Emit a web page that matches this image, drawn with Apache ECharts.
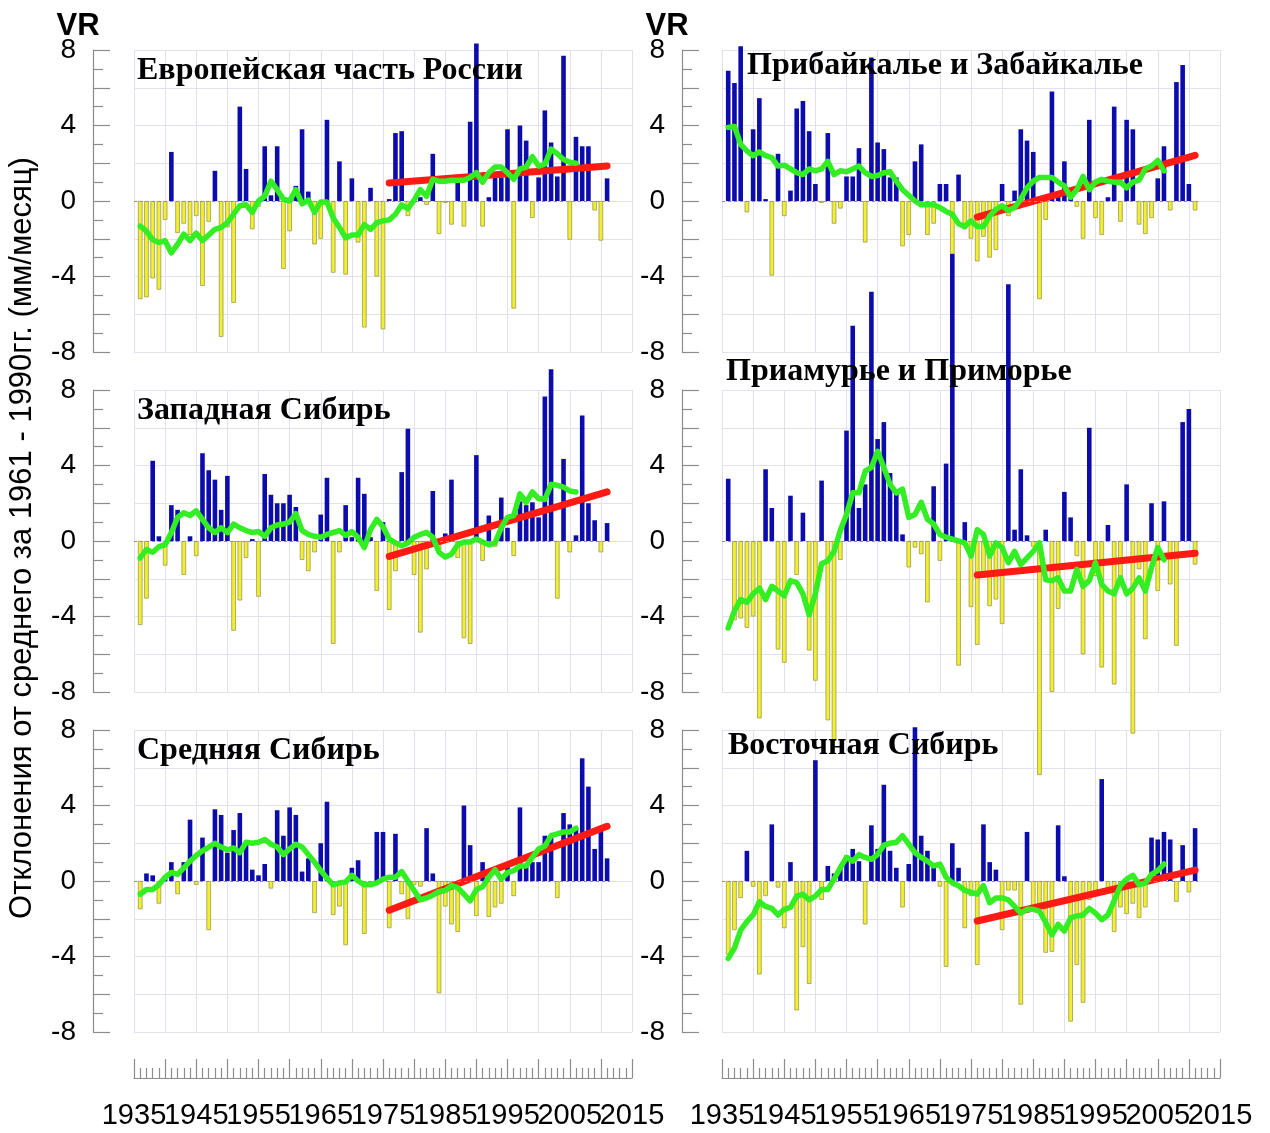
<!DOCTYPE html>
<html>
<head>
<meta charset="utf-8">
<script src="https://cdn.jsdelivr.net/npm/echarts@6/dist/echarts.min.js"></script>
<style>
  html, body { margin: 0; padding: 0; background: #ffffff; }
  #chart { width: 1270px; height: 1133px; }
</style>
</head>
<body>
<div id="chart"></div>
<script>
// Years of the annual anomalies
const years = [1936, 1937, 1938, 1939, 1940, 1941, 1942, 1943, 1944, 1945,
  1946, 1947, 1948, 1949, 1950, 1951, 1952, 1953, 1954, 1955,
  1956, 1957, 1958, 1959, 1960, 1961, 1962, 1963, 1964, 1965,
  1966, 1967, 1968, 1969, 1970, 1971, 1972, 1973, 1974, 1975,
  1976, 1977, 1978, 1979, 1980, 1981, 1982, 1983, 1984, 1985,
  1986, 1987, 1988, 1989, 1990, 1991, 1992, 1993, 1994, 1995,
  1996, 1997, 1998, 1999, 2000, 2001, 2002, 2003, 2004, 2005,
  2006, 2007, 2008, 2009, 2010, 2011];
// The smoothed curve runs to 2006
const smoothYears = years.slice(0, 71);
// Linear trend since 1976
const trendYears = [1976, 2011];

const regionNames = ['Европейская часть России', 'Прибайкалье и Забайкалье',
  'Западная Сибирь', 'Приамурье и Приморье', 'Средняя Сибирь', 'Восточная Сибирь'];

const yTickLabels = [-8, -4, 0, 4, 8];
const yearTickLabels = [1935, 1945, 1955, 1965, 1975, 1985, 1995, 2005, 2015];

// Европейская часть России
const europeBars = [-5.2, -5.1, -4.1, -4.7, -1.0, 2.6, -1.7, -1.2, -1.8, -0.8,
  -4.5, -1.1, 1.6, -7.2, -1.4, -5.4, 5.0, 1.7, -1.5, -0.3,
  2.9, 0.3, 2.9, -3.6, -1.6, 0.8, 3.8, 0.5, -2.3, -2.0,
  4.3, -3.8, 2.1, -3.9, 1.2, -2.2, -6.7, 0.7, -4.0, -6.8,
  0.1, 3.6, 3.7, -0.8, -0.1, 0.2, -0.2, 2.5, -1.75, -0.1,
  -1.25, 1.1, -1.35, 4.2, 8.35, -1.35, 0.2, 1.25, 1.25, 3.8,
  -5.7, 4.0, 3.2, -0.9, 1.25, 4.8, 3.1, 1.3, 7.7, -2.05,
  3.4, 2.9, 2.9, -0.5, -2.1, 1.2];
const europeSmooth = [-1.33, -1.6, -2.05, -2.2, -2.1, -2.75, -2.3, -1.75, -2.1, -1.7,
  -2.1, -1.8, -1.5, -1.4, -1.15, -0.7, -0.25, -0.2, -0.6, 0.0,
  0.25, 1.05, 0.6, 0.1, 0.0, 0.6, -0.15, 0.05, -0.6, -0.05,
  -0.05, -0.9, -1.4, -1.95, -1.8, -1.8, -1.25, -1.5, -1.15, -1.05,
  -1.0, -0.7, -0.2, -0.4, 0.05, 0.6, 0.25, 1.15, 1.05, 1.05,
  1.1, 1.1, 1.1, 1.25, 1.5, 1.0, 1.5, 1.8, 1.8, 1.5,
  1.15, 1.7, 1.8, 2.35, 1.85, 1.95, 2.75, 2.5, 2.2, 2.05,
  2.0];
const europeTrend = [0.95, 1.86];

// Прибайкалье и Забайкалье
const baikalBars = [6.9, 6.25, 8.2, -0.6, 3.8, 5.45, 0.1, -3.95, 2.5, -0.8,
  0.55, 4.9, 5.3, 3.7, 0.9, -0.1, 3.6, -1.2, -0.4, 1.3,
  1.3, 2.8, -2.2, 7.6, 3.1, 2.75, 1.25, 1.25, -2.4, -1.8,
  2.1, 3.0, -1.8, -1.2, 0.9, 0.9, -2.8, 1.4, -1.5, -2.0,
  -3.2, -1.9, -3.0, -2.6, 0.9, -0.8, 0.55, 3.8, 3.2, 2.6,
  -5.2, -1.0, 5.8, 0.5, 2.1, 0.2, -0.3, -2.0, 4.3, -0.9,
  -1.8, 0.2, 5.0, -1.1, 4.3, 3.8, -1.25, -1.75, -0.9, 1.2,
  2.9, -0.5, 6.3, 7.2, 0.9, -0.5];
const baikalSmooth = [3.9, 3.95, 3.0, 2.65, 2.4, 2.6, 2.4, 2.3, 1.85, 1.9,
  1.7, 1.5, 1.4, 1.7, 1.6, 1.7, 2.1, 1.4, 1.6, 1.55,
  1.7, 1.85, 1.5, 1.3, 1.35, 1.5, 1.55, 1.05, 0.6, 0.3,
  0.0, -0.2, -0.2, -0.2, -0.35, -0.55, -0.7, -1.2, -1.35, -1.05,
  -1.35, -1.35, -0.8, -0.45, -0.25, -0.5, -0.35, 0.1, 0.7, 1.05,
  1.25, 1.25, 1.25, 1.0, 0.8, 0.2, 0.6, 1.3, 0.6, 1.0,
  1.15, 1.05, 1.0, 1.0, 0.7, 1.0, 1.1, 1.7, 1.85, 2.15,
  1.6];
const baikalTrend = [-0.85, 2.42];

// Западная Сибирь
const westSibBars = [-4.45, -3.05, 4.25, 0.25, -1.3, 1.9, 1.65, -1.8, 0.25, -0.8,
  4.65, 3.75, 3.25, 1.65, 3.45, -4.75, -3.15, -0.9, 0.1, -2.95,
  3.55, 2.45, 2.0, 2.0, 2.45, 1.8, -1.0, -1.6, -0.6, 1.4,
  3.35, -5.45, -0.6, 1.9, 0.2, 3.35, 2.5, 0.2, -2.65, 1.0,
  -3.65, -1.6, 3.65, 5.95, -1.8, -4.85, -1.5, 2.65, -0.5, 0.4,
  3.25, -0.9, -5.15, -5.45, 4.55, -1.05, 1.35, -0.3, 2.3, 0.7,
  -0.8, 2.1, 1.9, 2.05, 1.25, 7.65, 9.1, -3.05, 4.35, -0.6,
  0.3, 6.65, 2.0, 1.1, -0.6, 0.95];
const westSibSmooth = [-0.9, -0.45, -0.6, -0.3, -0.2, 0.45, 1.25, 1.5, 1.35, 1.6,
  1.15, 0.7, 0.45, 0.7, 0.45, 0.9, 0.7, 0.55, 0.45, 0.5,
  0.25, 0.7, 0.85, 0.9, 1.0, 1.45, 0.55, 0.35, 0.25, 0.2,
  0.35, 0.45, 0.55, 0.3, 0.5, 0.2, -0.35, 0.6, 1.15, 0.75,
  0.1, -0.1, -0.25, -0.1, 0.2, 0.35, 0.45, 0.2, -0.6, -0.85,
  -0.7, -0.2, -0.05, -0.05, 0.1, -0.05, -0.2, -0.1, 0.7, 1.25,
  1.35, 2.5, 2.05, 2.6, 2.25, 2.2, 3.0, 2.95, 2.85, 2.65,
  2.6];
const westSibTrend = [-0.82, 2.6];

// Приамурье и Приморье
const amurBars = [3.3, -4.2, -4.1, -4.6, -4.0, -9.4, 3.8, 1.75, -5.75, -6.45,
  2.4, -1.8, 1.5, -5.8, -7.4, 3.2, -9.5, -10.6, -1.0, 5.85,
  11.4, 1.75, 3.0, 13.2, 5.4, 6.3, 3.6, 2.75, 0.35, -1.4,
  -0.35, -0.7, -3.25, 2.9, -1.05, 4.1, 15.2, -6.6, 1.0, -3.5,
  -5.5, -1.95, -3.45, -3.1, -4.4, 13.6, 0.6, 3.8, 0.3, -0.3,
  -12.4, 0.6, -8.0, -3.6, 2.6, 1.25, -0.8, -6.0, 6.0, -1.85,
  -6.7, 0.85, -7.6, -1.9, 3.0, -10.2, -1.5, -5.2, 2.0, -2.65,
  2.1, -2.3, -5.55, 6.3, 7.0, -1.25];
const amurSmooth = [-4.6, -3.7, -3.1, -3.25, -2.8, -2.5, -3.1, -2.4, -2.65, -2.9,
  -2.1, -2.2, -2.8, -3.9, -2.8, -1.2, -1.05, -0.55, 0.55, 1.4,
  2.55, 2.55, 3.7, 3.9, 4.75, 3.9, 3.0, 2.55, 2.75, 1.25,
  1.4, 2.05, 1.15, 0.9, 0.35, 0.2, 0.1, 0.0, -0.1, -0.8,
  0.6, 0.35, -0.8, -0.1, -0.35, -1.15, -0.55, -1.25, -0.9, -0.55,
  -0.1, -2.05, -2.1, -1.95, -2.65, -2.65, -1.5, -2.4, -2.1, -1.15,
  -2.3, -2.65, -2.8, -1.95, -2.8, -2.5, -1.95, -2.65, -1.4, -0.35,
  -1.0];
const amurTrend = [-1.8, -0.65];

// Средняя Сибирь
const centralSibBars = [-1.5, 0.4, 0.3, -1.2, 0.1, 1.0, -0.7, 1.0, 3.25, -0.2,
  2.3, -2.6, 3.8, 3.5, 1.5, 2.7, 3.6, 1.95, 0.6, 0.3,
  0.9, -0.4, 3.75, 2.4, 3.9, 3.5, 0.5, 1.2, -1.7, 2.0,
  4.2, -1.8, -1.35, -3.4, 0.7, 1.1, -2.8, -0.2, 2.6, 2.6,
  -2.5, 2.5, -0.7, -2.0, -0.2, -0.3, 2.8, 0.4, -5.95, -1.35,
  -2.3, -2.7, 4.0, 1.9, -1.85, 1.0, -1.9, -1.4, -1.2, 0.8,
  -0.8, 3.9, 0.9, 1.0, 1.0, 2.4, 2.4, -0.9, 3.6, 3.0,
  2.8, 6.5, 5.0, 1.7, 2.65, 1.2];
const centralSibSmooth = [-0.7, -0.45, -0.45, -0.2, 0.2, 0.45, 0.35, 0.7, 1.05, 1.35,
  1.6, 1.8, 2.0, 1.8, 1.65, 1.75, 1.5, 2.05, 2.0, 2.05,
  2.2, 1.95, 1.8, 1.4, 1.7, 1.95, 1.8, 1.4, 1.0, 0.55,
  0.15, -0.2, -0.1, -0.05, 0.3, 0.0, -0.2, -0.2, -0.1, 0.1,
  0.2, 0.2, 0.5, 0.0, -0.5, -1.0, -0.9, -0.75, -0.55, -0.5,
  -0.25, -0.35, -0.7, -1.05, -0.45, -0.3, 0.2, 0.6, 0.1, 0.45,
  0.55, 0.8, 0.8, 1.25, 1.7, 1.85, 2.4, 2.5, 2.6, 2.6,
  2.8];
const centralSibTrend = [-1.55, 2.9];

// Восточная Сибирь
const eastSibBars = [-3.9, -2.6, -0.9, 1.6, -0.3, -4.95, -0.8, 3.0, -0.35, -2.5,
  1.0, -6.85, -3.5, -5.45, 6.4, -1.0, 0.8, 0.4, 0.8, 1.35,
  1.7, 1.05, -2.3, 2.95, 1.7, 5.1, 1.6, 0.7, -1.4, 0.9,
  8.15, 2.4, 1.6, 0.9, -0.3, -4.55, 2.0, 0.7, -2.5, -0.8,
  -4.45, 3.0, 1.0, 0.6, -2.6, -0.5, -0.5, -6.55, 2.6, -1.5,
  -1.2, -3.8, -3.75, 2.95, 0.25, -7.45, -4.45, -6.45, -1.0, -0.8,
  5.4, -0.6, -2.7, -1.4, -1.75, -1.2, -1.95, -1.4, 2.3, 2.2,
  2.6, 2.2, -1.1, 1.9, -0.6, 2.8];
const eastSibSmooth = [-4.1, -3.55, -2.6, -2.15, -1.8, -1.1, -1.35, -1.45, -1.8, -1.5,
  -1.4, -0.8, -0.7, -1.0, -0.8, -0.45, -0.45, 0.1, 0.7, 1.25,
  1.05, 1.4, 1.25, 1.15, 1.4, 1.9, 2.0, 2.05, 2.4, 1.95,
  1.5, 1.25, 1.05, 0.8, 0.9, 0.2, -0.1, -0.25, -0.5, -0.6,
  -0.7, -0.25, -1.15, -0.9, -0.9, -1.0, -1.35, -1.7, -1.5, -1.5,
  -1.6, -2.2, -2.85, -2.3, -2.65, -1.95, -1.85, -1.8, -1.45, -1.7,
  -2.05, -1.8, -1.05, -0.25, 0.1, 0.3, -0.2, -0.1, 0.35, 0.55,
  0.9];
const eastSibTrend = [-2.12, 0.58];

const panels = [
  { bars: europeBars, smooth: europeSmooth, trend: europeTrend },
  { bars: baikalBars, smooth: baikalSmooth, trend: baikalTrend },
  { bars: westSibBars, smooth: westSibSmooth, trend: westSibTrend },
  { bars: amurBars, smooth: amurSmooth, trend: amurTrend },
  { bars: centralSibBars, smooth: centralSibSmooth, trend: centralSibTrend },
  { bars: eastSibBars, smooth: eastSibSmooth, trend: eastSibTrend }
];

// ---- layout ----
const colLeft = [134, 722];
const rowTop = [50, 390, 730];
const plotW = 498, plotH = 302;
const axisOffset = [41, 40];
const titlePos = [[137, 71], [747, 66], [137, 411], [726, 372], [137, 751], [728, 746]];
const vrPos = [[78, 26], [667, 26]];

const AXIS_GREY = '#8c8c8c';
const SANS = '"Liberation Sans", Arial, sans-serif';
const SERIF = '"Liberation Serif", "Times New Roman", serif';
const posStyle = { color: '#0c0cad' };
const negStyle = { color: '#f3ef2c', borderColor: '#9a9a58', borderWidth: 0.8 };

const grids = [], xAxes = [], yAxes = [], series = [], graphics = [];

panels.forEach((p, i) => {
  const col = i % 2, row = Math.floor(i / 2);
  grids.push({ left: colLeft[col], top: rowTop[row], width: plotW, height: plotH });
  xAxes.push({
    gridIndex: i, type: 'value', min: 1935, max: 2015, interval: 5,
    axisLine: { show: false }, axisTick: { show: false }, axisLabel: { show: false },
    splitLine: { show: true, lineStyle: { color: '#e0e0f0', width: 1 } }
  });
  yAxes.push({
    gridIndex: i, type: 'value', min: -8, max: 8, interval: 2,
    position: 'left', offset: axisOffset[col],
    axisLine: { show: true, lineStyle: { color: AXIS_GREY, width: 1.2 } },
    axisTick: { show: true, inside: true, length: 17, lineStyle: { color: AXIS_GREY, width: 1.2 } },
    minorTick: { show: true, splitNumber: 2, length: 10, lineStyle: { color: AXIS_GREY, width: 1.2 } },
    axisLabel: {
      formatter: v => (yTickLabels.indexOf(v) >= 0 ? String(v) : ''),
      fontSize: 28, color: '#000', fontFamily: SANS, margin: 17
    },
    splitLine: { show: true, lineStyle: { color: '#e2e2ec', width: 1 } }
  });

  series.push({
    type: 'bar', xAxisIndex: i, yAxisIndex: i, barWidth: 4.6, clip: false, z: 2,
    data: p.bars.map((v, k) => ({ value: [years[k], v], itemStyle: v >= 0 ? posStyle : negStyle })),
    markLine: {
      silent: true, symbol: ['none', 'none'], label: { show: false },
      lineStyle: { color: '#9a9a60', type: [3, 3], width: 1 },
      data: [[{ coord: [1935, 0] }, { coord: [2011.5, 0] }]]
    }
  });
  series.push({
    type: 'line', xAxisIndex: i, yAxisIndex: i, symbol: 'none', z: 3,
    data: trendYears.map((y, k) => [y, p.trend[k]]),
    lineStyle: { color: '#ff1a14', width: 7, cap: 'round' }
  });
  series.push({
    type: 'line', xAxisIndex: i, yAxisIndex: i, symbol: 'none', z: 4,
    data: smoothYears.map((y, k) => [y, p.smooth[k]]),
    lineStyle: { color: '#33ee22', width: 5.5, cap: 'round', join: 'round' }
  });

  graphics.push({
    type: 'text', x: titlePos[i][0], y: titlePos[i][1], z: 20,
    style: {
      text: regionNames[i], fill: '#000', align: 'left', verticalAlign: 'middle',
      font: 'bold 32px ' + SERIF
    }
  });
});

// year scale strips beneath each column
[0, 1].forEach(col => {
  const gi = grids.length;
  grids.push({ left: colLeft[col], top: 1060, width: plotW, height: 18 });
  xAxes.push({
    gridIndex: gi, type: 'value', min: 1935, max: 2015, interval: 5, position: 'bottom',
    axisLine: { show: true, lineStyle: { color: AXIS_GREY, width: 1.2 } },
    axisTick: { show: true, inside: true, length: 19, lineStyle: { color: AXIS_GREY, width: 1.2 } },
    minorTick: { show: true, splitNumber: 5, length: 10, lineStyle: { color: AXIS_GREY, width: 1.2 } },
    axisLabel: {
      formatter: v => (yearTickLabels.indexOf(v) >= 0 ? String(v) : ''),
      fontSize: 29, color: '#000', fontFamily: SANS, margin: 23
    },
    splitLine: { show: false }
  });
  yAxes.push({ gridIndex: gi, type: 'value', min: 0, max: 1, show: false });

  graphics.push({
    type: 'text', x: vrPos[col][0], y: vrPos[col][1], z: 20,
    style: { text: 'VR', fill: '#000', align: 'center', verticalAlign: 'middle', font: 'bold 31px ' + SANS }
  });
});

graphics.push({
  type: 'text', x: 22, y: 538, rotation: Math.PI / 2, z: 20,
  style: {
    text: 'Отклонения от среднего за 1961 - 1990гг. (мм/месяц)',
    fill: '#000', align: 'center', verticalAlign: 'middle', font: '31px ' + SANS
  }
});

const chart = echarts.init(document.getElementById('chart'), null, { renderer: 'canvas' });
chart.setOption({
  animation: false,
  backgroundColor: '#ffffff',
  grid: grids,
  xAxis: xAxes,
  yAxis: yAxes,
  series: series,
  graphic: graphics
});
</script>
</body>
</html>
